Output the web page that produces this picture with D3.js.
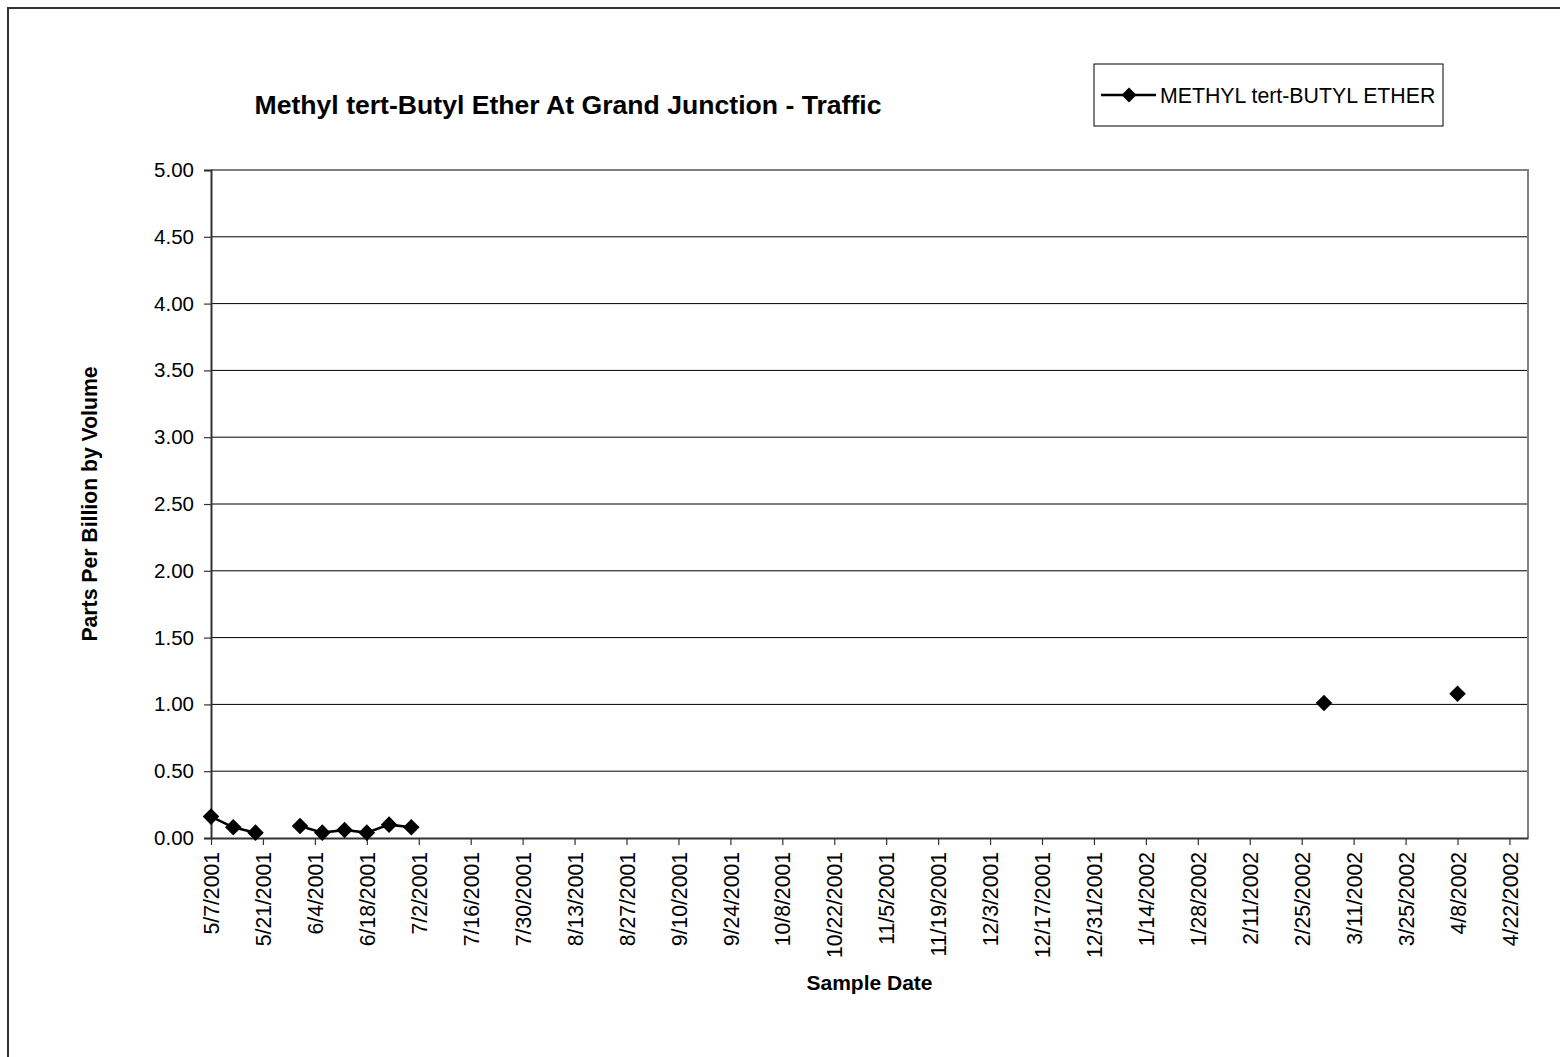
<!DOCTYPE html>
<html>
<head>
<meta charset="utf-8">
<script src="https://cdn.jsdelivr.net/npm/d3@7"></script>
<style>
  html, body { margin: 0; padding: 0; background: #fff; }
  svg { display: block; font-family: "Liberation Sans", Arial, sans-serif; }
</style>
</head>
<body>
<svg id="chart" width="1560" height="1057"></svg>
<script>
// Sample dates and MTBE concentrations (ppbv); null marks a missed sample (breaks the line)
const sampleDates = [
  "5/7/2001", "5/13/2001", "5/19/2001", "5/25/2001", "5/31/2001", "6/6/2001",
  "6/12/2001", "6/18/2001", "6/24/2001", "6/30/2001", "7/6/2001",
  "3/3/2002", "3/9/2002", "4/8/2002"
];
const mtbeValues = [
  0.16, 0.08, 0.04, null, 0.09, 0.04,
  0.06, 0.04, 0.10, 0.08, null,
  1.01, null, 1.08
];

const xTickLabels = [
  "5/7/2001", "5/21/2001", "6/4/2001", "6/18/2001", "7/2/2001", "7/16/2001",
  "7/30/2001", "8/13/2001", "8/27/2001", "9/10/2001", "9/24/2001", "10/8/2001",
  "10/22/2001", "11/5/2001", "11/19/2001", "12/3/2001", "12/17/2001", "12/31/2001",
  "1/14/2002", "1/28/2002", "2/11/2002", "2/25/2002", "3/11/2002", "3/25/2002",
  "4/8/2002", "4/22/2002"
];
const yTickValues = [0, 0.5, 1, 1.5, 2, 2.5, 3, 3.5, 4, 4.5, 5];
const xDomain = ["5/7/2001", "4/27/2002"];

const seriesName = "METHYL tert-BUTYL ETHER";
const chartTitle = "Methyl tert-Butyl Ether At Grand Junction - Traffic";
const yTitle = "Parts Per Billion by Volume";
const xTitle = "Sample Date";

function parseDate(s) {
  const [m, d, y] = s.split("/").map(Number);
  return new Date(Date.UTC(y, m - 1, d));
}

const data = sampleDates.map((d, i) => ({ date: parseDate(d), value: mtbeValues[i] }));

const svg = d3.select("#chart");
const plot = { left: 211, right: 1528, top: 170, bottom: 838 };

// Outer chart frame
svg.append("rect")
  .attr("x", 8).attr("y", 8)
  .attr("width", 1600).attr("height", 1100)
  .attr("fill", "#fff").attr("stroke", "#333").attr("stroke-width", 2);

const x = d3.scaleUtc()
  .domain(xDomain.map(parseDate))
  .range([plot.left, plot.right]);
const y = d3.scaleLinear()
  .domain([0, 5])
  .range([plot.bottom, plot.top]);

// Horizontal gridlines
svg.append("g")
  .selectAll("line")
  .data(yTickValues.filter(v => v > 0 && v < 5))
  .join("line")
  .attr("x1", plot.left).attr("x2", plot.right)
  .attr("y1", d => y(d)).attr("y2", d => y(d))
  .attr("stroke", "#000").attr("stroke-width", 1);

// Plot area border (top and right in grey)
svg.append("path")
  .attr("d", `M${plot.left},${plot.top}H${plot.right}V${plot.bottom}`)
  .attr("fill", "none").attr("stroke", "#808080").attr("stroke-width", 2);

// Y axis
const yAxis = svg.append("g")
  .attr("transform", `translate(${plot.left},0)`)
  .call(d3.axisLeft(y).tickValues(yTickValues).tickFormat(d3.format(".2f")).tickSize(7).tickPadding(10));
yAxis.select(".domain").attr("stroke", "#333").attr("stroke-width", 2);
yAxis.selectAll(".tick line").attr("stroke", "#333").attr("stroke-width", 1.2);
yAxis.selectAll(".tick text")
  .attr("font-size", 20.5).attr("fill", "#000")
  .attr("font-family", "Liberation Sans, Arial, sans-serif");

// X axis
const xAxis = svg.append("g")
  .attr("transform", `translate(0,${plot.bottom})`)
  .call(d3.axisBottom(x)
    .tickValues(xTickLabels.map(parseDate))
    .tickFormat((d, i) => xTickLabels[i])
    .tickSize(7).tickSizeOuter(0));
xAxis.select(".domain").attr("stroke", "#333").attr("stroke-width", 2);
xAxis.selectAll(".tick line").attr("stroke", "#333").attr("stroke-width", 1.2);
xAxis.selectAll(".tick text")
  .attr("font-size", 21.2).attr("fill", "#000")
  .attr("font-family", "Liberation Sans, Arial, sans-serif")
  .attr("text-anchor", "end")
  .attr("transform", "translate(0,14) rotate(-90)")
  .attr("x", 0).attr("y", 0).attr("dy", "0.36em");

// Data line with gaps for missed samples
const line = d3.line()
  .defined(d => d.value !== null)
  .x(d => x(d.date))
  .y(d => y(d.value));
svg.append("path")
  .datum(data)
  .attr("d", line)
  .attr("fill", "none").attr("stroke", "#000").attr("stroke-width", 2.6);

const diamond = d3.symbol().type(d3.symbolDiamond2).size(175);
svg.append("g")
  .selectAll("path")
  .data(data.filter(d => d.value !== null))
  .join("path")
  .attr("transform", d => `translate(${x(d.date)},${y(d.value)})`)
  .attr("d", diamond)
  .attr("fill", "#000");

// Titles
svg.append("text")
  .attr("x", 568).attr("y", 114)
  .attr("text-anchor", "middle")
  .attr("font-size", 26.6).attr("font-weight", "bold")
  .text(chartTitle);

svg.append("text")
  .attr("transform", `translate(97,${(plot.top + plot.bottom) / 2}) rotate(-90)`)
  .attr("text-anchor", "middle")
  .attr("font-size", 21.2).attr("font-weight", "bold")
  .text(yTitle);

svg.append("text")
  .attr("x", (plot.left + plot.right) / 2).attr("y", 990)
  .attr("text-anchor", "middle")
  .attr("font-size", 21).attr("font-weight", "bold")
  .text(xTitle);

// Legend
const legend = svg.append("g");
legend.append("rect")
  .attr("x", 1094).attr("y", 64).attr("width", 349).attr("height", 62)
  .attr("fill", "#fff").attr("stroke", "#000").attr("stroke-width", 1);
legend.append("line")
  .attr("x1", 1101).attr("x2", 1156).attr("y1", 95).attr("y2", 95)
  .attr("stroke", "#000").attr("stroke-width", 2.6);
legend.append("path")
  .attr("transform", "translate(1129,95)")
  .attr("d", d3.symbol().type(d3.symbolDiamond2).size(140))
  .attr("fill", "#000");
legend.append("text")
  .attr("x", 1160).attr("y", 95).attr("dy", "0.36em")
  .attr("font-size", 21.3)
  .text(seriesName);
</script>
</body>
</html>
